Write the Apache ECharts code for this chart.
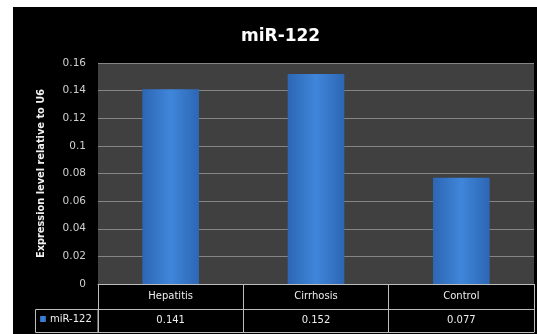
<!DOCTYPE html>
<html>
<head>
<meta charset="utf-8">
<script src="https://cdn.jsdelivr.net/npm/echarts@6/dist/echarts.min.js"></script>
<style>
html,body{margin:0;padding:0;background:#fff;width:537px;height:334px;overflow:hidden;}
#c{position:absolute;left:13px;top:7px;width:524px;height:327px;}
</style>
</head>
<body>
<div id="c"></div>
<script>
const categories = ['Hepatitis', 'Cirrhosis', 'Control'];
const seriesName = 'miR-122';
const values = [0.141, 0.152, 0.077];
const yTicks = { min: 0, max: 0.16, interval: 0.02 };

const chart = echarts.init(document.getElementById('c'));
const lineCol = '#bdbdbd';
const font = 'DejaVu Sans';
chart.setOption({
  backgroundColor: '#000',
  animation: false,
  title: {
    text: 'miR-122', left: 223, top: 16,
    textStyle: { color: '#fff', fontSize: 17, fontWeight: 'bold', fontFamily: font }
  },
  legend: {
    data: [seriesName], left: 27, top: 307, padding: 0,
    itemWidth: 6, itemHeight: 6, itemGap: 4,
    icon: 'rect',
    textStyle: { color: '#eee', fontSize: 10, fontFamily: font, padding: [0, 0, 0, -1] }
  },
  grid: {
    left: 85, right: 3, top: 56, bottom: 50,
    show: true, backgroundColor: '#404040', borderWidth: 0
  },
  xAxis: [
    {
      type: 'category', data: categories, position: 'bottom',
      axisLine: { show: true, lineStyle: { color: lineCol, width: 1 } },
      axisTick: { show: true, length: 48, interval: 0, lineStyle: { color: lineCol } },
      axisLabel: { color: '#eee', fontSize: 10, fontFamily: font, margin: 7 },
      splitLine: { show: false }
    },
    {
      type: 'category', data: categories, position: 'bottom', offset: 25,
      axisLine: { show: true, lineStyle: { color: lineCol, width: 1 } },
      axisTick: { show: false },
      axisLabel: { color: '#eee', fontSize: 10, fontFamily: font, margin: 6,
        formatter: (v, i) => String(values[i]) }
    },
    {
      type: 'category', data: categories, position: 'bottom', offset: 48,
      axisLine: { show: true, lineStyle: { color: lineCol, width: 1 } },
      axisTick: { show: false },
      axisLabel: { show: false }
    }
  ],
  yAxis: {
    type: 'value', min: yTicks.min, max: yTicks.max, interval: yTicks.interval,
    name: 'Expression level relative to U6', nameLocation: 'middle', nameGap: 52,
    nameTextStyle: { color: '#f2f2f2', fontSize: 9.8, fontWeight: 'bold', fontFamily: font },
    axisLine: { show: false }, axisTick: { show: false },
    axisLabel: { color: '#cfcfcf', fontSize: 10.5, fontFamily: font, margin: 12 },
    splitLine: { lineStyle: { color: '#858585', width: 1 } }
  },
  graphic: [
    { type: 'rect', shape: { x: 22.5, y: 302.5, width: 62.5, height: 23 },
      style: { fill: 'none', stroke: lineCol, lineWidth: 1 } }
  ],
  series: [{
    name: seriesName, type: 'bar', data: values, barWidth: '39%',
    xAxisIndex: 0,
    itemStyle: {
      color: new echarts.graphic.LinearGradient(0, 0, 1, 0, [
        { offset: 0, color: '#2d66b4' },
        { offset: 0.5, color: '#3f86da' },
        { offset: 1, color: '#2d66b4' }
      ])
    }
  }]
});
</script>
</body>
</html>
